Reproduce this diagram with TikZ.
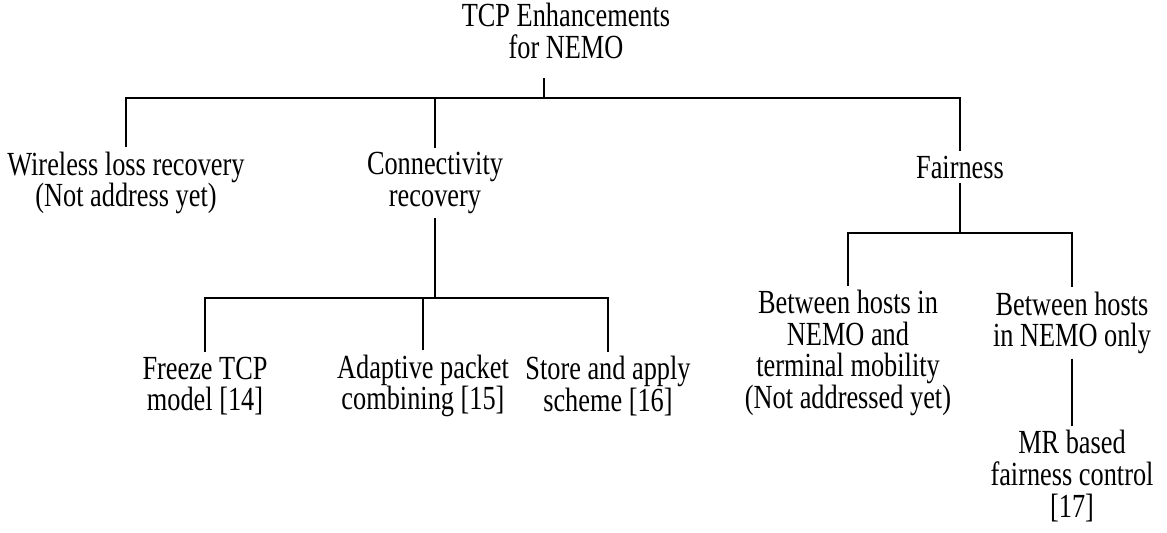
\documentclass[tikz,border=0pt]{standalone}
\usepackage{fontspec}
\setmainfont{Liberation Serif}[FakeStretch=0.78]
\usepackage{tikz}

\begin{document}
\begin{tikzpicture}[x=0.025cm,y=-0.025cm,
  txt/.style={align=center,inner sep=3pt,font=\fontsize{24}{22.5}\selectfont},
  tline/.style={line width=1.1pt}]
  \useasboundingbox (0,0) rectangle (1167,533);

  % root and first level
  \node[txt,outer ysep=11pt] (root) at (566,31) {TCP Enhancements\\for NEMO};
  \node[txt] (wl)   at (126,183) {Wireless loss recovery\\(Not address yet)};
  \node[txt] (conn) at (435,183) {Connectivity\\recovery};
  \node[txt] (fair) at (960,167) {Fairness};

  % connectivity recovery schemes
  \node[txt] (fz) at (205,386) {Freeze TCP\\model [14]};
  \node[txt] (ap) at (423,386) {Adaptive packet\\combining [15]};
  \node[txt] (sa) at (608,386) {Store and apply\\scheme [16]};

  % fairness branches
  \node[txt] (bh1) at (848,353) {Between hosts in\\NEMO and\\terminal mobility\\(Not addressed yet)};
  \node[txt] (bh2) at (1072,323) {Between hosts\\in NEMO only};
  \node[txt] (mr)  at (1072,476) {MR based\\fairness control\\{[17]}};

  % bus junctions
  \coordinate (b1) at (544,98);
  \coordinate (b2) at (435,298);
  \coordinate (b3) at (960,233);

  % tree lines
  \draw[tline] (root.south -| b1) -- (b1);
  \draw[tline] (wl.north) |- (b1) -| (fair.north);
  \draw[tline] (conn.north) -- (conn.north |- b1);

  \draw[tline] (conn.south) -- (b2);
  \draw[tline] (fz.north) |- (b2) -| (sa.north);
  \draw[tline] (ap.north) -- (ap.north |- b2);

  \draw[tline] (fair.south) -- (b3);
  \draw[tline] (bh1.north) |- (b3) -| (bh2.north);
  \draw[tline] (bh2.south) -- (mr.north);

\end{tikzpicture}
\end{document}
